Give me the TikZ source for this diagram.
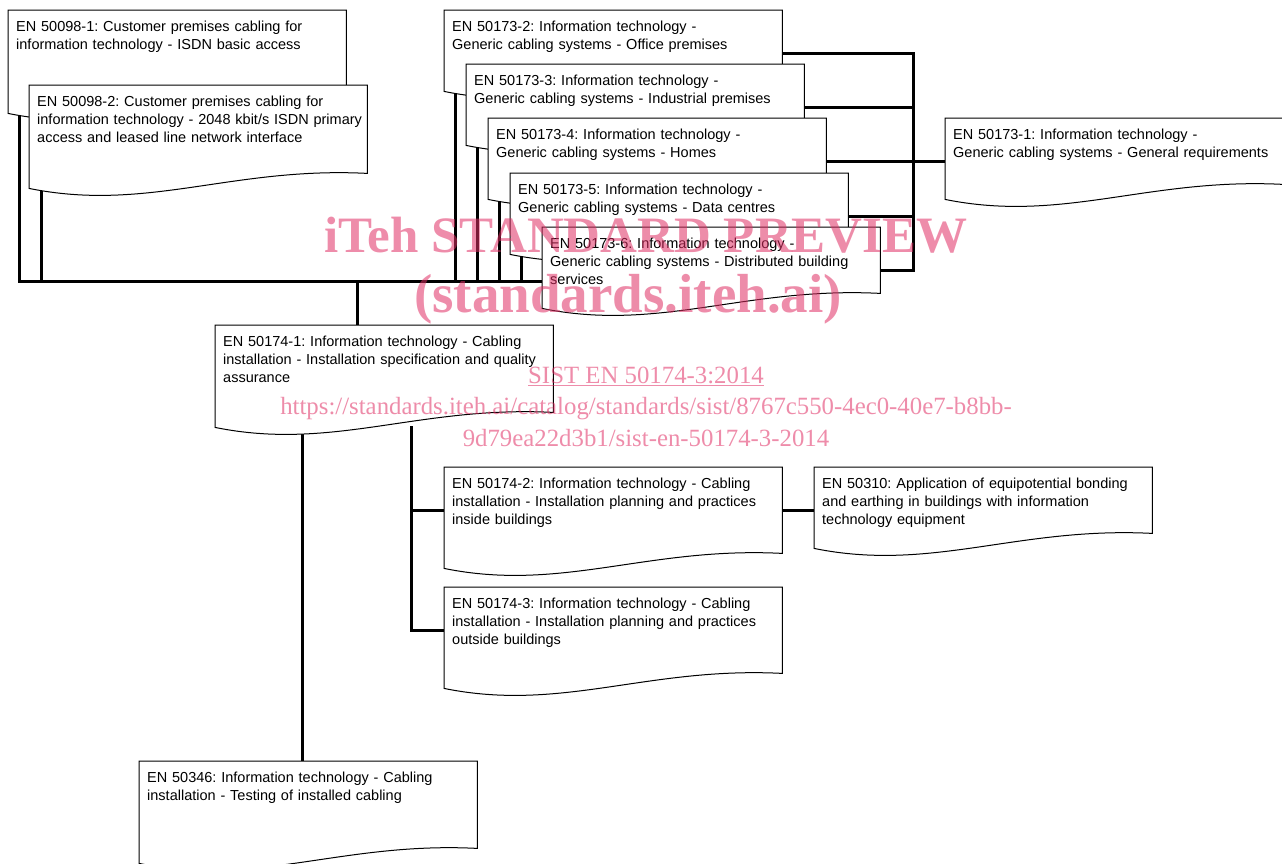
\documentclass[tikz,border=0pt]{standalone}
\usepackage{fontspec}
\setmainfont{Liberation Sans}
\newfontfamily\wmfont{Liberation Serif}
\usetikzlibrary{positioning, calc}
\pgfdeclarelayer{background}
\pgfsetlayers{background,main}
\definecolor{wmpink}{RGB}{224,46,100}
\frenchspacing

% one standard = one sheet with a wavy bottom edge
\newcommand{\docbox}[4]{%
    \node[docframe, minimum height=#3] (#1) at #2 {};
    \filldraw[docline] (#1.north west) -- (#1.north east) -- ([yshift=15pt]#1.south east)
        .. controls +(-135,-7) and +(118,24) .. (#1.south west) -- cycle;
    \node[doctext] (#1-t) at (#1.north west) {#4};
}

\begin{document}
\begin{tikzpicture}[
        x=1pt, y=-1pt,
        % Stili per i fogli
        docframe/.style={rectangle, anchor=north west, inner sep=0pt, minimum width=338pt},
        docline/.style={draw=black, fill=white, line width=1pt},
        doctext/.style={anchor=north west, inner sep=0pt, xshift=8pt, yshift=-11pt,
            text width=330pt, align=left, font=\fontsize{14.5pt}{17.7pt}\selectfont},
        % Stile dei collegamenti
        link/.style={line width=3pt, line cap=rect},
        % Filigrana
        wmbig/.style={anchor=base, text=wmpink, text opacity=0.55,
            font=\wmfont\bfseries\fontsize{51pt}{51pt}\selectfont},
        wmsmall/.style={anchor=base, text=wmpink, text opacity=0.55,
            font=\wmfont\fontsize{24.8pt}{24.8pt}\selectfont}
    ]
    \useasboundingbox (0,0) rectangle (1282,863);

    % ISDN
    \docbox{s1}{(8,10)}{103}{EN 50098-1: Customer premises cabling for\\information technology - ISDN basic access}
    \docbox{s2}{(29,85)}{103}{EN 50098-2: Customer premises cabling for\\information technology - 2048 kbit/s ISDN primary\\access and leased line network interface}

    % generic cabling
    \docbox{g2}{(444,10)}{81}{EN 50173-2: Information technology -\\Generic cabling systems - Office premises}
    \docbox{g3}{(466,64)}{81}{EN 50173-3: Information technology -\\Generic cabling systems - Industrial premises}
    \docbox{g4}{(488,118)}{81}{EN 50173-4: Information technology -\\Generic cabling systems - Homes}
    \docbox{g5}{(510,173)}{81}{EN 50173-5: Information technology -\\Generic cabling systems - Data centres}
    \docbox{g6}{(542,227)}{81}{EN 50173-6: Information technology -\\Generic cabling systems - Distributed building\\services}
    \docbox{g1}{(945,118)}{81}{EN 50173-1: Information technology -\\Generic cabling systems - General requirements}

    % installation
    \docbox{i1}{(215,325)}{102}{EN 50174-1: Information technology - Cabling\\installation - Installation specification and quality\\assurance}
    \docbox{i2}{(444,467)}{101}{EN 50174-2: Information technology - Cabling\\installation - Installation planning and practices\\inside buildings}
    \docbox{i3}{(444,587)}{101}{EN 50174-3: Information technology - Cabling\\installation - Installation planning and practices\\outside buildings}
    \docbox{eb}{(814,467)}{81}{EN 50310: Application of equipotential bonding\\and earthing in buildings with information\\technology equipment}
    \docbox{ts}{(139,761)}{102}{EN 50346: Information technology - Cabling\\installation - Testing of installed cabling}

    \coordinate (bus) at (0,281);
    \coordinate (rbus) at (913,0);

    \begin{pgfonlayer}{background}
        \draw[link] ([xshift=11pt]s1.south west) |- (g6.west |- bus);
        \draw[link] ([xshift=12pt]s2.south west) -- ([xshift=12pt]s2.south west |- bus);
        \foreach \g in {g2,g3,g4,g5}
            \draw[link] ([xshift=11pt]\g.south west) -- ([xshift=11pt]\g.south west |- bus);
        \foreach \g in {g2,g3,g4,g5,g6}
            \draw[link] ([yshift=-43pt]\g.north east) -- ([yshift=-43pt]\g.north east -| rbus);
        \draw[link] ([yshift=-43pt]g2.north east -| rbus) -- ([yshift=-43pt]g6.north east -| rbus);
        \draw[link] ([yshift=-43pt]g4.north east -| rbus) -- ([yshift=-43pt]g1.north west);
        \draw[link] ([xshift=142pt]i1.north west) -- ([xshift=142pt]i1.north west |- bus);
        \draw[link] ([xshift=87pt]i1.south west) -- ([xshift=87pt]i1.south west |- ts.north);
        \draw[link] ([xshift=196pt]i1.south west) |- ([yshift=-43pt]i2.north west);
        \draw[link] ([xshift=196pt]i1.south west) |- ([yshift=-43pt]i3.north west);
        \draw[link] ([yshift=-43pt]i2.north east) -- ([yshift=-43pt]eb.north west);
    \end{pgfonlayer}

    % filigrana
    \node[wmbig] (wm1) at (646,252) {iTeh STANDARD PREVIEW};
    \node[wmbig, font=\wmfont\bfseries\fontsize{55pt}{55pt}\selectfont] (wm2) at (628,312) {(standards.iteh.ai)};
    \node[wmsmall] (wm3) at (646,383) {\underline{SIST EN 50174-3:2014}};
    \node[wmsmall] (wm4) at (646,414) {https://standards.iteh.ai/catalog/standards/sist/8767c550-4ec0-40e7-b8bb-};
    \node[wmsmall] (wm5) at (646,446) {9d79ea22d3b1/sist-en-50174-3-2014};
\end{tikzpicture}
\end{document}
